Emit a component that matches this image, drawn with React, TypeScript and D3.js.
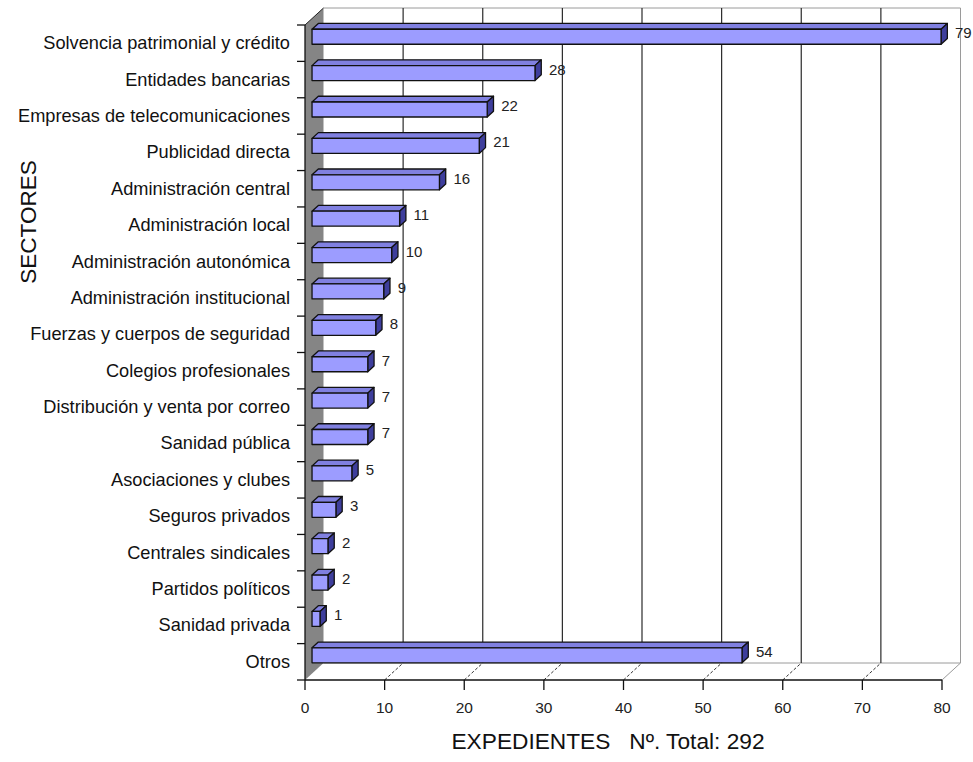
import React from "react";
import * as d3 from "d3";

const sectors = [
  "Solvencia patrimonial y crédito",
  "Entidades bancarias",
  "Empresas de telecomunicaciones",
  "Publicidad directa",
  "Administración central",
  "Administración local",
  "Administración autonómica",
  "Administración institucional",
  "Fuerzas y cuerpos de seguridad",
  "Colegios profesionales",
  "Distribución y venta por correo",
  "Sanidad pública",
  "Asociaciones y clubes",
  "Seguros privados",
  "Centrales sindicales",
  "Partidos políticos",
  "Sanidad privada",
  "Otros",
];
const expedientes = [79, 28, 22, 21, 16, 11, 10, 9, 8, 7, 7, 7, 5, 3, 2, 2, 1, 54];
const xTicks = [0, 10, 20, 30, 40, 50, 60, 70, 80];
const xTitle = "EXPEDIENTES   Nº. Total: 292";
const yTitle = "SECTORES";

const W = 973;
const H = 762;
// front plane of the 3D box
const left = 305;
const right = 942;
const top = 25;
const bottom = 680;
// depth vector of the box (front -> back)
const DX = 18.5;
const DY = -17;
// bar depth span as a fraction of the box depth
const F1 = 0.38;
const F2 = 0.72;
const HALF = 7.5;

const FONT = "'Liberation Sans', Arial, sans-serif";

export default function App() {
  const x = d3.scaleLinear().domain([0, 80]).range([left, right]);
  const y = d3.scaleBand<string>().domain(sectors).range([top, bottom]);
  const bw = y.bandwidth();

  const pts = (p: [number, number][]) => p.map((q) => q.join(",")).join(" ");

  const boundaries = sectors.map((s) => y(s) as number).concat([bottom]);

  return (
    <svg
      width={W}
      height={H}
      style={{ position: "absolute", left: 0, top: 0, background: "#fff" }}
      fontFamily={FONT}
    >
      <rect x={0} y={0} width={W} height={H} fill="#fff" />

      {/* back wall frame */}
      <line x1={left + DX} y1={top + DY} x2={x(80) + DX} y2={top + DY} stroke="#9a9a9a" />
      <line x1={x(80) + DX} y1={top + DY} x2={x(80) + DX} y2={bottom + DY} stroke="#9a9a9a" />
      <line x1={left + DX} y1={bottom + DY} x2={x(80) + DX} y2={bottom + DY} stroke="#9a9a9a" />

      {/* back gridlines */}
      {xTicks
        .filter((t) => t > 0 && t < 80)
        .map((t) => (
          <line
            key={"g" + t}
            x1={x(t) + DX}
            x2={x(t) + DX}
            y1={top + DY}
            y2={bottom + DY}
            stroke="#2a2a2a"
            strokeWidth={1.2}
          />
        ))}

      {/* floor diagonals */}
      {xTicks
        .filter((t) => t > 0)
        .map((t) => (
          <line
            key={"f" + t}
            x1={x(t)}
            y1={bottom}
            x2={x(t) + DX}
            y2={bottom + DY}
            stroke={t === 80 ? "#9a9a9a" : "#333"}
            strokeDasharray={t === 80 ? undefined : "3,2"}
          />
        ))}

      {/* side wall */}
      <polygon
        points={pts([
          [left, top],
          [left + DX, top + DY],
          [left + DX, bottom + DY],
          [left, bottom],
        ])}
        fill="#858585"
      />
      <line x1={left} y1={top} x2={left + DX} y2={top + DY} stroke="#222" />

      {/* bars */}
      {sectors.map((s, i) => {
        const v = expedientes[i];
        const bc = (y(s) as number) + bw / 2;
        const x0 = x(0) + DX * F1;
        const x1 = x(v) + DX * F1;
        const yt = bc + DY * F1 - HALF;
        const yb = bc + DY * F1 + HALF;
        const ddx = DX * (F2 - F1);
        const ddy = DY * (F2 - F1);
        return (
          <g key={s} stroke="#111" strokeWidth={1.3} strokeLinejoin="round">
            <polygon
              points={pts([
                [x0, yt],
                [x0 + ddx, yt + ddy],
                [x1 + ddx, yt + ddy],
                [x1, yt],
              ])}
              fill="#8080e0"
            />
            <polygon
              points={pts([
                [x1, yt],
                [x1 + ddx, yt + ddy],
                [x1 + ddx, yb + ddy],
                [x1, yb],
              ])}
              fill="#3e3e9c"
            />
            <rect x={x0} y={yt} width={x1 - x0} height={yb - yt} fill="#9c9cff" />
          </g>
        );
      })}

      {/* value labels */}
      {sectors.map((s, i) => {
        const v = expedientes[i];
        const bc = (y(s) as number) + bw / 2;
        return (
          <text
            key={"v" + s}
            x={x(v) + 21}
            y={bc - 10.5}
            dominantBaseline="central"
            fontSize={15}
            fill="#222"
          >
            {v}
          </text>
        );
      })}

      {/* category axis */}
      <line x1={left} y1={top} x2={left} y2={bottom} stroke="#111" strokeWidth={1.3} />
      {boundaries.map((b, i) => (
        <line key={"t" + i} x1={left - 8} x2={left} y1={b} y2={b} stroke="#111" strokeWidth={1.3} />
      ))}
      {sectors.map((s) => (
        <text
          key={"c" + s}
          x={left - 15}
          y={(y(s) as number) + bw / 2}
          textAnchor="end"
          dominantBaseline="central"
          fontSize={18.2}
          fill="#111"
        >
          {s}
        </text>
      ))}

      {/* value axis */}
      <line x1={left} y1={bottom} x2={right} y2={bottom} stroke="#111" strokeWidth={1.3} />
      {xTicks.map((t) => (
        <g key={"x" + t}>
          <line x1={x(t)} x2={x(t)} y1={bottom} y2={bottom + 10} stroke="#111" strokeWidth={1.3} />
          <text
            x={x(t)}
            y={bottom + 27}
            textAnchor="middle"
            dominantBaseline="central"
            fontSize={15.5}
            fill="#222"
          >
            {t}
          </text>
        </g>
      ))}

      {/* titles */}
      <text
        x={608}
        y={741}
        textAnchor="middle"
        dominantBaseline="central"
        fontSize={22.7}
        fill="#111"
        style={{ whiteSpace: "pre" }}
      >
        {xTitle}
      </text>
      <text
        transform="translate(28,222) rotate(-90)"
        textAnchor="middle"
        dominantBaseline="central"
        fontSize={22.5}
        fill="#111"
      >
        {yTitle}
      </text>
    </svg>
  );
}
